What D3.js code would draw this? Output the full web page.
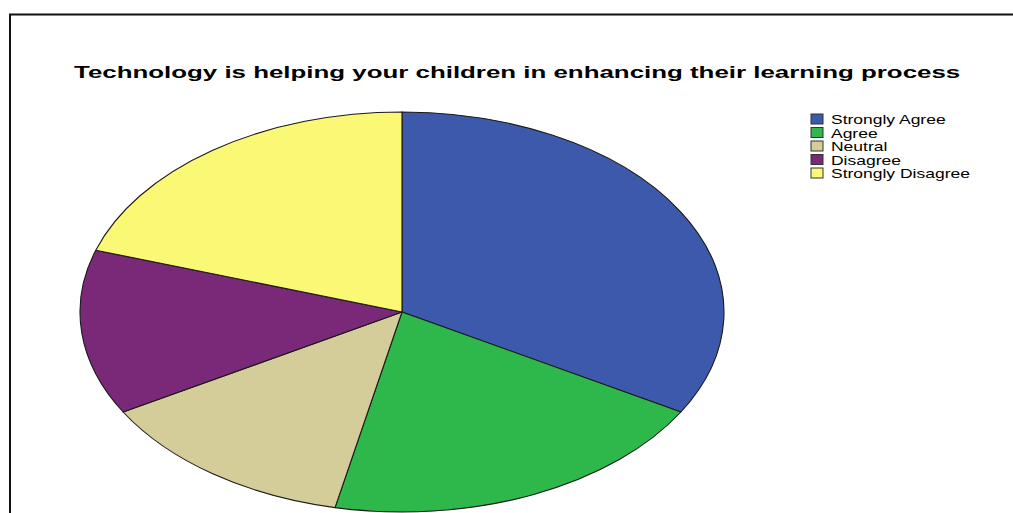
<!DOCTYPE html>
<html>
<head>
<meta charset="utf-8">
<script src="https://cdn.jsdelivr.net/npm/d3@7/dist/d3.min.js"></script>
<style>
  html, body { margin: 0; padding: 0; background: #fff; }
  svg { display: block; }
  text { font-family: "Liberation Sans", Arial, sans-serif; }
</style>
</head>
<body>
<svg id="chart" width="1013" height="513"></svg>
<script>
// Survey responses
const chartTitle = "Technology is helping your children in enhancing their learning process";
const categories = ["Strongly Agree", "Agree", "Neutral", "Disagree", "Strongly Disagree"];
const counts = [10, 6, 4, 4, 6];
const colors = ["#3d59ab", "#2eb84b", "#d4cd99", "#7a2979", "#fbf876"];

const svg = d3.select("#chart");

// Outer frame
svg.append("path")
  .attr("d", "M10,513 L10,14.5 L1013,14.5")
  .attr("fill", "none")
  .attr("stroke", "#111")
  .attr("stroke-width", 2);

// Title, stretched horizontally to its full span
const titleLeft = 74, titleRight = 961, titleBase = 78;
const title = svg.append("text")
  .attr("x", 0).attr("y", 0)
  .attr("font-size", 16.5)
  .attr("font-weight", "bold")
  .attr("fill", "#000")
  .text(chartTitle);
const tw = title.node().getComputedTextLength();
title.attr("transform", `translate(${titleLeft},${titleBase}) scale(${(titleRight - titleLeft) / tw},1)`);

// Elliptical pie: unit-radius arcs scaled to the ellipse
const cx = 402, cy = 312, rx = 322, ry = 200;
const pie = d3.pie().sort(null).value(d => d.value);
const arc = d3.arc().innerRadius(0).outerRadius(1);
const data = categories.map((c, i) => ({ name: c, value: counts[i], color: colors[i] }));

const pieG = svg.append("g")
  .attr("transform", `translate(${cx},${cy}) scale(${rx},${ry})`);
pieG.selectAll("path")
  .data(pie(data))
  .join("path")
  .attr("d", arc)
  .attr("fill", d => d.data.color)
  .attr("stroke", "#1a1a1a")
  .attr("stroke-width", 1.1)
  .attr("stroke-linejoin", "round")
  .attr("vector-effect", "non-scaling-stroke");

// Legend
const legX = 811, legY = 114, rowH = 13.5, textX = 831, textRight = 970;
const leg = svg.append("g");
const rows = leg.selectAll("g")
  .data(data)
  .join("g")
  .attr("transform", (d, i) => `translate(0,${legY + i * rowH})`);
rows.append("rect")
  .attr("x", legX).attr("y", 0)
  .attr("width", 12).attr("height", 10)
  .attr("fill", d => d.color)
  .attr("stroke", "#333")
  .attr("stroke-width", 1);
const labels = rows.append("text")
  .attr("font-size", 12.5)
  .attr("fill", "#000")
  .text(d => d.name);
const longest = d3.max(labels.nodes(), n => n.getComputedTextLength());
const sx = (textRight - textX) / longest;
labels.attr("transform", `translate(${textX},10) scale(${sx},1)`);
</script>
</body>
</html>
